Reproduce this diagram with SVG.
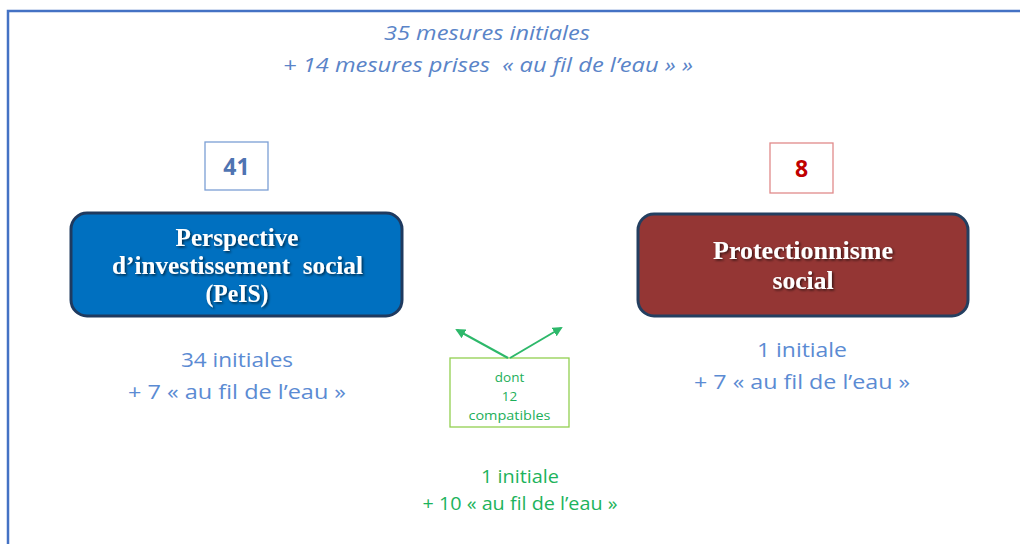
<svg xmlns="http://www.w3.org/2000/svg" width="1020" height="544" viewBox="0 0 1020 544">
<defs>
<style>
.cal{font-family:"Open Sans","Liberation Sans",sans-serif}
.top{font-style:italic;font-size:20px;fill:#5A84C8}
.blue{font-size:20px;fill:#5B8BD3}
.green{font-size:17.5px;fill:#1DB35C}
.title{font-family:"Liberation Serif","DejaVu Serif",serif;font-weight:bold;font-size:24.5px;fill:#fff}
.num{font-family:"Open Sans","Liberation Sans",sans-serif;font-weight:bold;font-size:23px}
</style>
<filter id="sh" x="-10%" y="-20%" width="120%" height="150%">
<feDropShadow dx="1.5" dy="1.5" stdDeviation="0.8" flood-color="#000" flood-opacity="0.6"/>
</filter>
<marker id="ah" viewBox="0 0 10 10" refX="8" refY="5" markerWidth="5" markerHeight="5" orient="auto">
<path d="M0,0 L10,5 L0,10 z" fill="#2DB86A"/>
</marker>
</defs>
<rect width="1020" height="544" fill="#fff"/>
<path d="M8,544 V11 H1020" fill="none" stroke="#4472C4" stroke-width="2.5"/>

<g id="header">
<text class="cal top" x="487" y="40" text-anchor="middle" textLength="206" lengthAdjust="spacingAndGlyphs">35 mesures initiales</text>
<text class="cal top" x="488" y="72" text-anchor="middle" textLength="410" lengthAdjust="spacingAndGlyphs" xml:space="preserve">+ 14 mesures prises  « au fil de l’eau » »</text>
</g>

<g id="count-41">
<rect x="205" y="142" width="63" height="48" fill="#fff" stroke="#7B9FD4" stroke-width="1.3"/>
<text class="num" x="236.5" y="175" text-anchor="middle" fill="#4F74B2">41</text>
</g>

<g id="count-8">
<rect x="770" y="143" width="63" height="50" fill="#fff" stroke="#E08A8A" stroke-width="1.3"/>
<text class="num" x="801.5" y="177" text-anchor="middle" fill="#C00000">8</text>
</g>

<g id="node-peis">
<rect x="71" y="213" width="331" height="103" rx="16" fill="#0070C0" stroke="#1F3A5F" stroke-width="3"/>
<g filter="url(#sh)">
<text class="title" x="237" y="246" text-anchor="middle" textLength="123" lengthAdjust="spacingAndGlyphs">Perspective</text>
<text class="title" x="237.5" y="274" text-anchor="middle" textLength="251" lengthAdjust="spacingAndGlyphs" xml:space="preserve">d’investissement  social</text>
<text class="title" x="237" y="302" text-anchor="middle" textLength="63" lengthAdjust="spacingAndGlyphs">(PeIS)</text>
</g>
</g>

<g id="node-protect">
<rect x="638" y="214" width="330" height="102" rx="16" fill="#943634" stroke="#243F60" stroke-width="3"/>
<g filter="url(#sh)">
<text class="title" x="803" y="259" text-anchor="middle" textLength="180" lengthAdjust="spacingAndGlyphs">Protectionnisme</text>
<text class="title" x="803" y="289" text-anchor="middle" textLength="61" lengthAdjust="spacingAndGlyphs">social</text>
</g>
</g>

<g id="label-peis">
<text class="cal blue" x="237" y="367" text-anchor="middle" textLength="112" lengthAdjust="spacingAndGlyphs">34 initiales</text>
<text class="cal blue" x="237" y="399" text-anchor="middle" textLength="218" lengthAdjust="spacingAndGlyphs">+ 7 « au fil de l’eau »</text>
</g>

<g id="label-protect">
<text class="cal blue" x="802" y="357" text-anchor="middle" textLength="90" lengthAdjust="spacingAndGlyphs">1 initiale</text>
<text class="cal blue" x="802" y="389" text-anchor="middle" textLength="216" lengthAdjust="spacingAndGlyphs">+ 7 « au fil de l’eau »</text>
</g>

<g id="node-compatibles">
<rect x="450" y="358" width="119" height="69" fill="#fff" stroke="#92D050" stroke-width="1.3"/>
<text class="cal" x="509.5" y="382" text-anchor="middle" font-size="13.5" fill="#1DAF5A">dont</text>
<text class="cal" x="509.5" y="401" text-anchor="middle" font-size="13.5" fill="#1DAF5A">12</text>
<text class="cal" x="509.5" y="420" text-anchor="middle" font-size="13.5" fill="#1DAF5A" textLength="82" lengthAdjust="spacingAndGlyphs">compatibles</text>
</g>

<g id="connectors">
<line x1="508" y1="358" x2="457" y2="330" stroke="#2DB86A" stroke-width="2" marker-end="url(#ah)"/>
<line x1="510" y1="358" x2="561" y2="328" stroke="#2DB86A" stroke-width="2" marker-end="url(#ah)"/>
</g>

<g id="label-both">
<text class="cal green" x="520" y="483" text-anchor="middle" textLength="78" lengthAdjust="spacingAndGlyphs">1 initiale</text>
<text class="cal green" x="520" y="510" text-anchor="middle" textLength="195" lengthAdjust="spacingAndGlyphs">+ 10 « au fil de l’eau »</text>
</g>
</svg>
